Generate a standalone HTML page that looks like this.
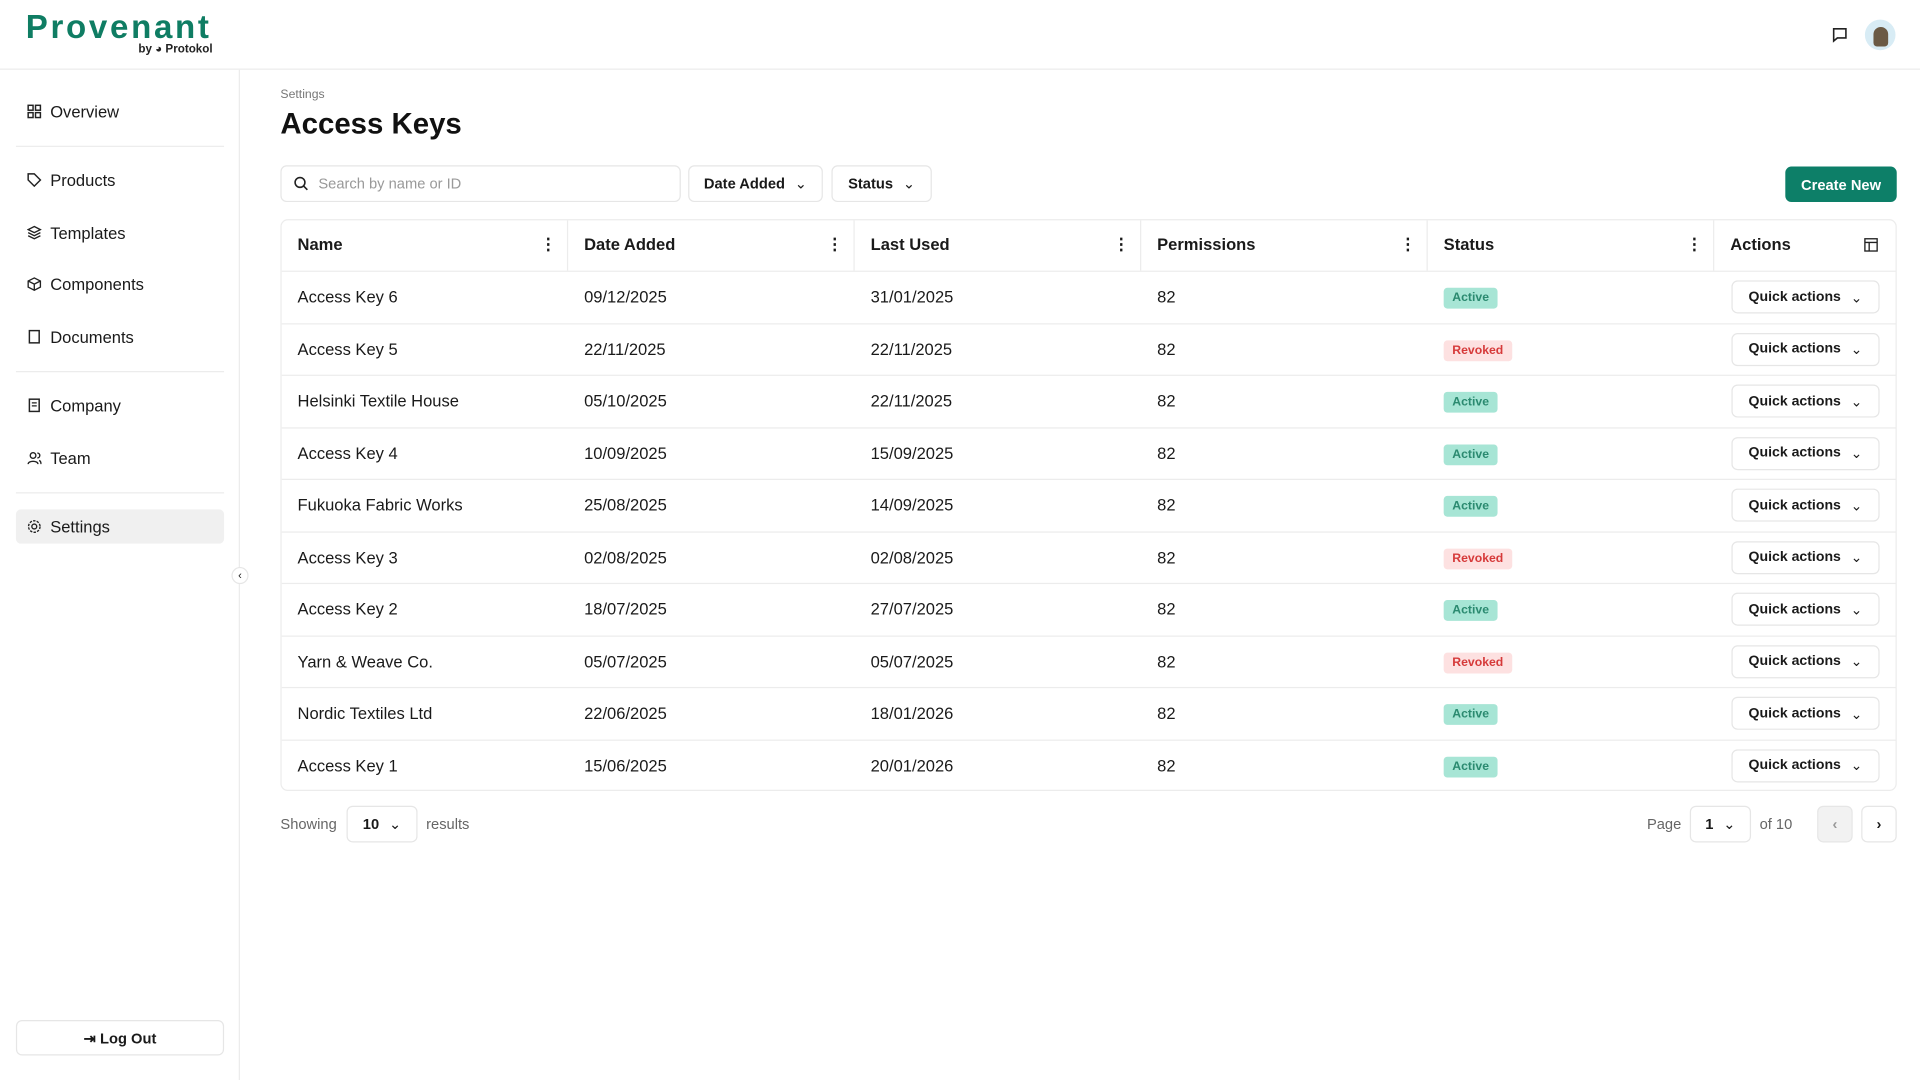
<!DOCTYPE html>
<html><head><meta charset="utf-8"><style>
*{box-sizing:border-box;margin:0;padding:0}
html,body{width:1920px;height:1080px;overflow:hidden;background:#fff}
body{font-family:"Liberation Sans",sans-serif;color:#1a1a1a}
#w{position:absolute;left:0;top:0;width:1568px;height:882px;transform:scale(1.22449);transform-origin:0 0}
.abs{position:absolute}
.hdr{left:0;top:0;width:1568px;height:57px;border-bottom:1px solid #ececec}
.logo{left:21px;top:7px;font-size:27px;font-weight:bold;color:#0f7d63;letter-spacing:2.2px}
.by{left:113px;top:35px;font-size:9.5px;font-weight:bold;color:#222}
.side{left:0;top:57px;width:196px;height:825px;border-right:1px solid #ececec}
.nav{left:13px;width:170px;height:28px;font-size:13.5px;display:flex;align-items:center;padding-left:9px;gap:7px;border-radius:4px}
.nav svg{width:12px;height:12px}
.div{left:13px;width:170px;height:1px;background:#ececec}
.btn{border:1px solid #e6e6e6;border-radius:5px;font-size:12px;font-weight:bold;display:flex;align-items:center;justify-content:center;gap:8px;background:#fff}
.tbl{left:229px;top:179px;width:1320px;border:1px solid #ececec;border-radius:6px;overflow:hidden}
.th,.td{position:absolute;font-size:13.5px}
.row{position:absolute;left:0;width:1320px;border-top:1px solid #ececec}
.badge{position:absolute;font-size:10px;font-weight:bold;padding:3px 7px;border-radius:3px}
.act{background:#a7e5d5;color:#2b8a70}
.rev{background:#fde1e1;color:#d63a3a}
.qa{position:absolute;left:1184px;width:121px;height:27px;font-size:11.5px}
</style></head><body><div id="w">
<div class="abs hdr"></div>
<div class="abs logo">Provenant</div>
<div class="abs by">by ◕ Protokol</div>
<svg class="abs" style="left:1496px;top:22px" width="13" height="13" viewBox="0 0 13 13"><path d="M1.5 1.5h10v7.5h-7l-3 2.5z" fill="none" stroke="#222" stroke-width="1.3"/></svg>
<div class="abs" style="left:1523px;top:16px;width:25px;height:25px;border-radius:50%;background:#d8ecf5"><div style="margin:6px auto 0;width:12px;height:16px;background:#6b5a45;border-radius:6px 6px 3px 3px"></div></div>
<div class="abs side"></div>
<div class="abs nav" style="top:77px"><svg viewBox="0 0 12 12"><g fill="none" stroke="#222" stroke-width="1.2"><rect x="1" y="1" width="4" height="4"/><rect x="7" y="1" width="4" height="4"/><rect x="1" y="7" width="4" height="4"/><rect x="7" y="7" width="4" height="4"/></g></svg>Overview</div>
<div class="abs div" style="top:119px"></div>
<div class="abs nav" style="top:133px"><svg viewBox="0 0 12 12"><path d="M1 1h5l5 5-5 5-5-5z" fill="none" stroke="#222" stroke-width="1.2"/></svg>Products</div>
<div class="abs nav" style="top:176px"><svg viewBox="0 0 12 12"><path d="M6 1l5 2.5-5 2.5-5-2.5zM1 6l5 2.5 5-2.5M1 8.5l5 2.5 5-2.5" fill="none" stroke="#222" stroke-width="1.1"/></svg>Templates</div>
<div class="abs nav" style="top:218px"><svg viewBox="0 0 12 12"><path d="M6 1l5 2.5v5L6 11 1 8.5v-5zM1 3.5L6 6l5-2.5M6 6v5" fill="none" stroke="#222" stroke-width="1.1"/></svg>Components</div>
<div class="abs nav" style="top:261px"><svg viewBox="0 0 12 12"><rect x="2" y="1" width="8" height="10" fill="none" stroke="#222" stroke-width="1.2"/></svg>Documents</div>
<div class="abs div" style="top:303px"></div>
<div class="abs nav" style="top:317px"><svg viewBox="0 0 12 12"><rect x="2" y="1" width="8" height="10" fill="none" stroke="#222" stroke-width="1.2"/><path d="M4 4h4M4 6.5h4" stroke="#222"/></svg>Company</div>
<div class="abs nav" style="top:360px"><svg viewBox="0 0 12 12"><circle cx="5" cy="4" r="2.3" fill="none" stroke="#222" stroke-width="1.1"/><path d="M1 11c0-3 8-3 8 0M8.5 2a2 2 0 010 4M10 8c1 .5 1.5 1.5 1.5 3" fill="none" stroke="#222" stroke-width="1.1"/></svg>Team</div>
<div class="abs div" style="top:402px"></div>
<div class="abs nav" style="top:416px;background:#f0f0f0"><svg viewBox="0 0 12 12"><circle cx="6" cy="6" r="2" fill="none" stroke="#222" stroke-width="1.1"/><circle cx="6" cy="6" r="4.7" fill="none" stroke="#222" stroke-width="1.1" stroke-dasharray="2 1"/></svg>Settings</div>
<div class="abs" style="left:189px;top:463px;width:14px;height:14px;border:1px solid #e6e6e6;border-radius:50%;background:#fff;font-size:9px;text-align:center;line-height:12px">‹</div>
<div class="abs btn" style="left:13px;top:833px;width:170px;height:29px">⇥ Log Out</div>

<div class="abs" style="left:229px;top:72px;font-size:10px;color:#777">Settings</div>
<div class="abs" style="left:229px;top:88px;font-size:24px;font-weight:bold;color:#111">Access Keys</div>
<div class="abs btn" style="left:229px;top:135px;width:327px;height:30px;justify-content:flex-start;padding-left:10px;font-weight:normal;color:#999;font-size:12px"><svg width="12" height="12" viewBox="0 0 12 12"><circle cx="5" cy="5" r="4" fill="none" stroke="#222" stroke-width="1.3"/><path d="M8 8l3 3" stroke="#222" stroke-width="1.3"/></svg>Search by name or ID</div>
<div class="abs btn" style="left:562px;top:135px;width:110px;height:30px">Date Added <span style="font-weight:normal">⌄</span></div>
<div class="abs btn" style="left:679px;top:135px;width:82px;height:30px">Status <span style="font-weight:normal">⌄</span></div>
<div class="abs btn" style="left:1458px;top:136px;width:91px;height:29px;background:#0d7f68;color:#fff;border-color:#0d7f68">Create New</div>

<div class="abs tbl" style="height:467px">
<div class="th" style="left:13px;top:12px;font-weight:bold">Name</div>
<div class="th" style="left:247px;top:12px;font-weight:bold">Date Added</div>
<div class="th" style="left:481px;top:12px;font-weight:bold">Last Used</div>
<div class="th" style="left:715px;top:12px;font-weight:bold">Permissions</div>
<div class="th" style="left:949px;top:12px;font-weight:bold">Status</div>
<div class="th" style="left:1183px;top:12px;font-weight:bold">Actions</div>
<div class="th" style="left:211px;top:12px;font-weight:bold">⋮</div>
<div class="th" style="left:445px;top:12px;font-weight:bold">⋮</div>
<div class="th" style="left:679px;top:12px;font-weight:bold">⋮</div>
<div class="th" style="left:913px;top:12px;font-weight:bold">⋮</div>
<div class="th" style="left:1147px;top:12px;font-weight:bold">⋮</div>
<svg class="abs" style="left:1292px;top:14px" width="12" height="12" viewBox="0 0 12 12"><g fill="none" stroke="#222" stroke-width="1.1"><rect x="1" y="1" width="10" height="10"/><path d="M1 4h10M4.5 4v7"/></g></svg>
<div class="abs" style="left:233px;top:0;width:1px;height:41px;background:#ececec"></div>
<div class="abs" style="left:467px;top:0;width:1px;height:41px;background:#ececec"></div>
<div class="abs" style="left:701px;top:0;width:1px;height:41px;background:#ececec"></div>
<div class="abs" style="left:935px;top:0;width:1px;height:41px;background:#ececec"></div>
<div class="abs" style="left:1169px;top:0;width:1px;height:41px;background:#ececec"></div>
<div id="rows"></div>
</div>

<div class="abs" style="left:229px;top:666px;font-size:12px;color:#666">Showing</div>
<div class="abs btn" style="left:283px;top:658px;width:58px;height:30px">10 <span style="font-weight:normal">⌄</span></div>
<div class="abs" style="left:348px;top:666px;font-size:12px;color:#666">results</div>
<div class="abs" style="left:1345px;top:666px;font-size:12px;color:#666">Page</div>
<div class="abs btn" style="left:1380px;top:658px;width:50px;height:30px">1 <span style="font-weight:normal">⌄</span></div>
<div class="abs" style="left:1437px;top:666px;font-size:12px;color:#666">of 10</div>
<div class="abs btn" style="left:1484px;top:658px;width:29px;height:30px;background:#f2f2f2;color:#999">‹</div>
<div class="abs btn" style="left:1520px;top:658px;width:29px;height:30px">›</div>
</div>
<script>
var d=[["Access Key 6","09/12/2025","31/01/2025",1],["Access Key 5","22/11/2025","22/11/2025",0],["Helsinki Textile House","05/10/2025","22/11/2025",1],["Access Key 4","10/09/2025","15/09/2025",1],["Fukuoka Fabric Works","25/08/2025","14/09/2025",1],["Access Key 3","02/08/2025","02/08/2025",0],["Access Key 2","18/07/2025","27/07/2025",1],["Yarn & Weave Co.","05/07/2025","05/07/2025",0],["Nordic Textiles Ltd","22/06/2025","18/01/2026",1],["Access Key 1","15/06/2025","20/01/2026",1]];
var h="";d.forEach(function(r,i){var t=41+i*42.5;
h+='<div class="row" style="top:'+t+'px;height:42.5px">'+
'<div class="td" style="left:13px;top:13px">'+r[0].replace("&","&amp;")+'</div>'+
'<div class="td" style="left:247px;top:13px">'+r[1]+'</div>'+
'<div class="td" style="left:481px;top:13px">'+r[2]+'</div>'+
'<div class="td" style="left:715px;top:13px">82</div>'+
'<div class="badge '+(r[3]?'act':'rev')+'" style="left:949px;top:13px">'+(r[3]?'Active':'Revoked')+'</div>'+
'<div class="qa btn" style="top:7px">Quick actions <span style="font-weight:normal">⌄</span></div></div>';});
document.getElementById("rows").innerHTML=h;
</script>
</body></html>
